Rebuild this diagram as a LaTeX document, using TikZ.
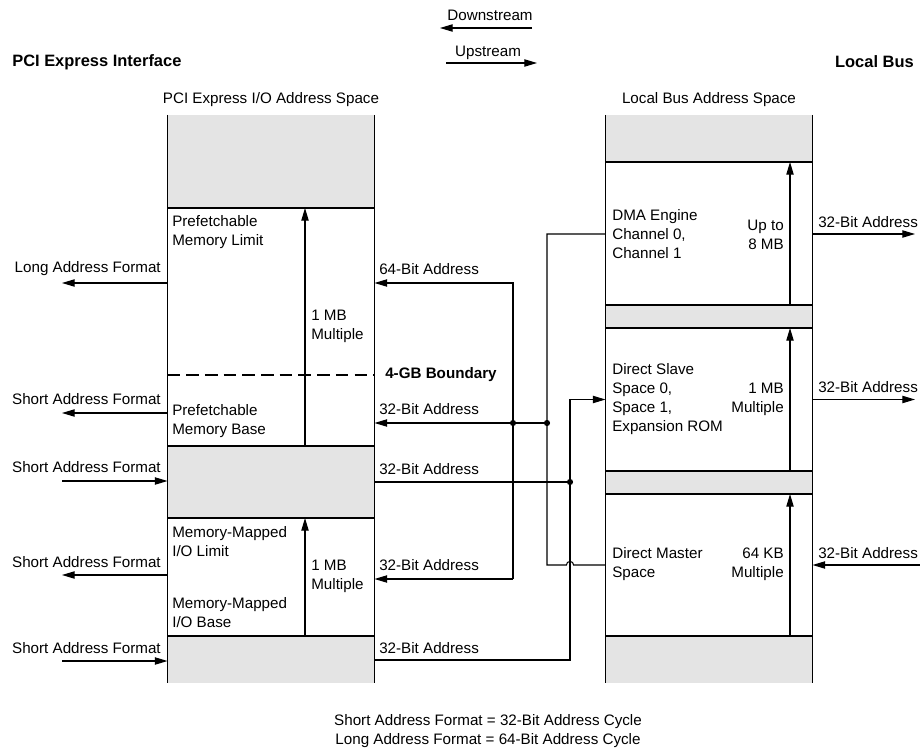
\documentclass[tikz,border=0pt]{standalone}
\usepackage{fontspec}
\setmainfont{Liberation Sans}
\usetikzlibrary{arrows.meta,positioning}
\definecolor{MapGray}{RGB}{228,228,228}
\newcommand{\px}{0.025cm}
\newcommand{\mapfont}{\fontsize{10.8}{13.5}\selectfont}
\tikzset{
  gapseg/.style={fill=MapGray,minimum width=207*\px,outer sep=0pt},
  memseg/.style={minimum width=207*\px,outer sep=0pt},
  colline/.style={line width=0.85pt},
  wire/.style={line width=0.75pt},
  arrow/.style={-{Triangle[length=9pt,width=5.2pt]},line width=0.75pt},
  lbl/.style={align=left},
  rlbl/.style={align=right},
  heading/.style={font=\fontsize{11.7}{14}\selectfont\bfseries},
  boundary/.style={dash pattern=on 9pt off 4.3pt,line width=1.4pt}
}

\begin{document}
\begin{tikzpicture}[x=\px,y=-\px,node distance=0pt,inner sep=0pt,font=\mapfont]
      \useasboundingbox (0,0) rectangle (920,748);
      \node[heading,anchor=west] (pcieif) at (12,62) {PCI Express Interface};
      \node[heading,anchor=east] (localbus) at (914,62) {Local Bus};
      \node (downlbl) at (490,15) {Downstream};
      \node (uplbl) at (488,53) {Upstream};
      \coordinate (downR) at (532,28);
      \coordinate (downL) at (440,28);
      \coordinate (upL) at (446,63);
      \coordinate (upR) at (537,63);
      \draw[arrow] (downR) -- (downL);
      \draw[arrow] (upL) -- (upR);

      % PCI Express I/O address space
      \node[gapseg,minimum height=93*\px,anchor=north west] (pgap1) at (167.5,115) {};
      \node[memseg,minimum height=238*\px,below=of pgap1] (pfmem) {};
      \node[gapseg,minimum height=72*\px,below=of pfmem] (pgap2) {};
      \node[memseg,minimum height=118*\px,below=of pgap2] (mmio) {};
      \node[gapseg,minimum height=47*\px,below=of mmio] (pgap3) {};
      \node[above=0.21cm of pgap1] (pcispace) {PCI Express I/O Address Space};
      \draw[colline] (pgap1.north west) -- (pgap3.south west);
      \draw[colline] (pgap1.north east) -- (pgap3.south east);
      \draw[colline] (pfmem.north west) rectangle (pfmem.south east);
      \draw[colline] (mmio.north west) rectangle (mmio.south east);

      % local bus address space
      \node[gapseg,minimum height=47*\px,anchor=north west] (lgap1) at (605.5,115) {};
      \node[memseg,minimum height=143*\px,below=of lgap1] (dma) {};
      \node[gapseg,minimum height=23*\px,below=of dma] (lgap2) {};
      \node[memseg,minimum height=143*\px,below=of lgap2] (dslave) {};
      \node[gapseg,minimum height=23*\px,below=of dslave] (lgap3) {};
      \node[memseg,minimum height=142*\px,below=of lgap3] (dmaster) {};
      \node[gapseg,minimum height=47*\px,below=of dmaster] (lgap4) {};
      \node[above=0.21cm of lgap1] (lbspace) {Local Bus Address Space};
      \draw[colline] (lgap1.north west) -- (lgap4.south west);
      \draw[colline] (lgap1.north east) -- (lgap4.south east);
      \draw[colline] (dma.north west) rectangle (dma.south east);
      \draw[colline] (dslave.north west) rectangle (dslave.south east);
      \draw[colline] (dmaster.north west) rectangle (dmaster.south east);

      \node[lbl,anchor=west] (pflimit) at (172,232.5) {Prefetchable\\Memory Limit};
      \node[lbl,anchor=west] (pfbase) at (172,421.5) {Prefetchable\\Memory Base};
      \node[lbl,anchor=west] (mmlimit) at (172,541.5) {Memory-Mapped\\I/O Limit};
      \node[lbl,anchor=west] (mmbase) at (172,612.5) {Memory-Mapped\\I/O Base};
      \node[lbl,anchor=west] (pfmult) at (311,326.5) {1 MB\\Multiple};
      \node[lbl,anchor=west] (mmmult) at (311,576.5) {1 MB\\Multiple};
      \node[lbl,anchor=west] (dmalbl) at (612,234) {DMA Engine\\Channel 0,\\Channel 1};
      \node[lbl,anchor=west] (dslbl) at (612,399.5) {Direct Slave\\Space 0,\\Space 1,\\Expansion ROM};
      \node[lbl,anchor=west] (dmlbl) at (612,564.5) {Direct Master\\Space};
      \node[rlbl,anchor=east] (dmasize) at (784,234.5) {Up to\\8 MB};
      \node[rlbl,anchor=east] (dssize) at (784,399.5) {1 MB\\Multiple};
      \node[rlbl,anchor=east] (dmsize) at (784,564.5) {64 KB\\Multiple};

      \coordinate (lx) at (305,0);
      \coordinate (rx) at (790,0);
      \draw[arrow] (pfmem.south -| lx) -- (pfmem.north -| lx);
      \draw[arrow] (mmio.south -| lx) -- (mmio.north -| lx);
      \draw[arrow] (dma.south -| rx) -- (dma.north -| rx);
      \draw[arrow] (dslave.south -| rx) -- (dslave.north -| rx);
      \draw[arrow] (dmaster.south -| rx) -- (dmaster.north -| rx);

      \coordinate (gbnd) at (167.5,375);
      \draw[boundary] (gbnd -| pfmem.west) -- (gbnd -| pfmem.east);
      \node[anchor=west,font=\mapfont\bfseries] (gblbl) at (385,375) {4-GB Boundary};

      % PCI Express side formats
      \node[anchor=east] (longfmt) at (161,269) {Long Address Format};
      \node[anchor=east] (shortfmt1) at (161,399) {Short Address Format};
      \node[anchor=east] (shortfmt2) at (161,467) {Short Address Format};
      \node[anchor=east] (shortfmt3) at (161,562) {Short Address Format};
      \node[anchor=east] (shortfmt4) at (161,648) {Short Address Format};
      \coordinate (lf0) at (62,283);
      \coordinate (lf1) at (62,413);
      \coordinate (lf2) at (62,481);
      \coordinate (lf3) at (62,575);
      \coordinate (lf4) at (62,661);
      \draw[arrow] (lf0 -| pfmem.west) -- (lf0);
      \draw[arrow] (lf1 -| pfmem.west) -- (lf1);
      \draw[arrow] (lf2) -- (lf2 -| pgap2.west);
      \draw[arrow] (lf3 -| mmio.west) -- (lf3);
      \draw[arrow] (lf4) -- (lf4 -| pgap3.west);

      % translation paths
      \node[anchor=west] (addr64) at (379,269) {64-Bit Address};
      \node[anchor=west] (addr32a) at (379,409) {32-Bit Address};
      \node[anchor=west] (addr32b) at (379,469) {32-Bit Address};
      \node[anchor=west] (addr32c) at (379,565) {32-Bit Address};
      \node[anchor=west] (addr32d) at (379,648) {32-Bit Address};
      \coordinate (a64) at (513,283);
      \coordinate (a32) at (513,579);
      \coordinate (b1) at (513,423);
      \coordinate (b2) at (547,423);
      \coordinate (c1) at (547,234);
      \coordinate (c2) at (547,565);
      \coordinate (d1) at (570,482);
      \coordinate (d2) at (570,399.5);
      \coordinate (d3) at (570,660);
      \coordinate (hop) at (d1 |- c2);
      \draw[arrow] (a32) -- (a64) -- (a64 -| pfmem.east);
      \draw[arrow] (a32) -- (a32 -| mmio.east);
      \draw[arrow] (b2) -- (b2 -| pfmem.east);
      \draw[wire] (c1 -| dma.west) -- (c1) -- (c2) -- ([xshift=-0.09cm]hop)
        arc[start angle=180,end angle=0,radius=0.09cm] -- (c2 -| dmaster.west);
      \draw[wire] (d1 -| pgap2.east) -- (d1);
      \draw[arrow] (d3 -| pgap3.east) -- (d3) -- (d2) -- (d2 -| dslave.west);
      \fill (b1) circle[radius=2.2pt];
      \fill (b2) circle[radius=2.2pt];
      \fill (d1) circle[radius=2.2pt];

      % local bus side
      \node[anchor=west] (lbaddr1) at (818,222) {32-Bit Address};
      \node[anchor=west] (lbaddr2) at (818,387) {32-Bit Address};
      \node[anchor=west] (lbaddr3) at (818,553) {32-Bit Address};
      \coordinate (o1) at (915,234);
      \coordinate (o2) at (915,399.5);
      \coordinate (o3) at (920,565);
      \draw[arrow] (o1 -| dma.east) -- (o1);
      \draw[arrow] (o2 -| dslave.east) -- (o2);
      \draw[arrow] (o3) -- (o3 -| dmaster.east);

      \node[align=center] (legend) at (488,731.5) {Short Address Format = 32-Bit Address Cycle\\Long Address Format = 64-Bit Address Cycle};
    \end{tikzpicture}
\end{document}
